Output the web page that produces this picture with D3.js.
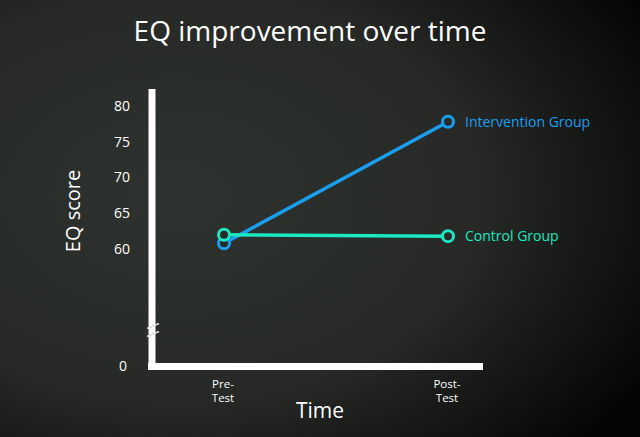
<!DOCTYPE html>
<html>
<head>
<meta charset="utf-8">
<script src="https://cdn.jsdelivr.net/npm/d3@7"></script>
<style>
  html, body { margin: 0; padding: 0; background: #1c1e1c; }
  svg { display: block; font-family: "Open Sans", "Noto Sans", sans-serif; }
</style>
</head>
<body>
<svg id="chart" width="640" height="437"></svg>
<script>
// data
const timePoints = ["Pre-Test", "Post-Test"];
const timeLabels = [["Pre-", "Test"], ["Post-", "Test"]];
const seriesNames = ["Intervention Group", "Control Group"];
const interventionScores = [60.8, 77.8];
const controlScores = [62, 61.8];
const yTicks = [0, 60, 65, 70, 75, 80];
const seriesColors = ["#1a9ff0", "#1ce8c2"];

const width = 640, height = 437;
const svg = d3.select("#chart");

// chalkboard background
const defs = svg.append("defs");
const grad = defs.append("radialGradient")
    .attr("id", "bg")
    .attr("cx", "28%").attr("cy", "45%").attr("r", "85%");
grad.append("stop").attr("offset", "0%").attr("stop-color", "#2f332f");
grad.append("stop").attr("offset", "55%").attr("stop-color", "#262926");
grad.append("stop").attr("offset", "100%").attr("stop-color", "#040404");
svg.append("rect").attr("width", width).attr("height", height).attr("fill", "url(#bg)");

// scales (broken y axis: 0 then 50..80)
const x = d3.scalePoint()
    .domain(timePoints)
    .range([224, 448]);

const y = d3.scaleLinear()
    .domain([0, 50, 80])
    .range([366, 320.5, 106]);

// title
svg.append("text")
    .attr("x", 310).attr("y", 41)
    .attr("text-anchor", "middle")
    .attr("fill", "#ffffff")
    .style("font-size", "28px")
    .text("EQ improvement over time");

// axes as thick chalk bars
const axisX0 = 152;
svg.append("line")
    .attr("x1", axisX0).attr("x2", axisX0)
    .attr("y1", 89).attr("y2", 370)
    .attr("stroke", "#ffffff").attr("stroke-width", 7);
svg.append("line")
    .attr("x1", 148).attr("x2", 483)
    .attr("y1", 366.5).attr("y2", 366.5)
    .attr("stroke", "#ffffff").attr("stroke-width", 7);

// axis break marks
const breakY = y(50) + 6;
[breakY, breakY + 8].forEach(by => {
    svg.append("line")
        .attr("x1", 147).attr("x2", 159)
        .attr("y1", by + 2).attr("y2", by - 3)
        .attr("stroke", "#dddddd").attr("stroke-width", 1.5);
});

// y tick labels
svg.selectAll(".ytick")
    .data(yTicks)
    .join("text")
    .attr("class", "ytick")
    .attr("x", d => d === 0 ? 127 : 130)
    .attr("y", d => y(d))
    .attr("dy", "0.35em")
    .attr("text-anchor", "end")
    .attr("fill", "#ffffff")
    .style("font-size", "14px")
    .text(d => d);

// x tick labels, two lines each
timePoints.forEach((d, i) => {
    timeLabels[i].forEach((part, j) => {
        svg.append("text")
            .attr("class", "xtick")
            .attr("x", x(d) - 1)
            .attr("y", 388 + j * 14)
            .attr("text-anchor", "middle")
            .attr("fill", "#ffffff")
            .style("font-size", "11.5px")
            .text(part);
    });
});

// axis titles
svg.append("text")
    .attr("transform", "translate(80,211) rotate(-90)")
    .attr("text-anchor", "middle")
    .attr("fill", "#ffffff")
    .style("font-size", "20px")
    .text("EQ score");

svg.append("text")
    .attr("x", 320).attr("y", 418)
    .attr("text-anchor", "middle")
    .attr("fill", "#ffffff")
    .style("font-size", "21px")
    .text("Time");

// series
const series = [
    { name: seriesNames[0], values: interventionScores, color: seriesColors[0] },
    { name: seriesNames[1], values: controlScores, color: seriesColors[1] }
];

const line = d3.line()
    .x((d, i) => x(timePoints[i]))
    .y(d => y(d));

series.forEach(s => {
    svg.append("path")
        .attr("d", line(s.values))
        .attr("fill", "none")
        .attr("stroke", s.color)
        .attr("stroke-width", 3.5);
});
series.forEach((s, k) => {
    svg.selectAll(".pt" + k)
        .data(s.values)
        .join("circle")
        .attr("class", "pt" + k)
        .attr("cx", (d, i) => x(timePoints[i]))
        .attr("cy", d => y(d))
        .attr("r", 5.5)
        .attr("fill", "#272a27")
        .attr("stroke", s.color)
        .attr("stroke-width", 3);
    svg.append("text")
        .attr("x", x(timePoints[1]) + 17)
        .attr("y", y(s.values[1]))
        .attr("dy", "0.35em")
        .attr("fill", s.color)
        .style("font-size", "14px")
        .text(s.name);
});
</script>
</body>
</html>
